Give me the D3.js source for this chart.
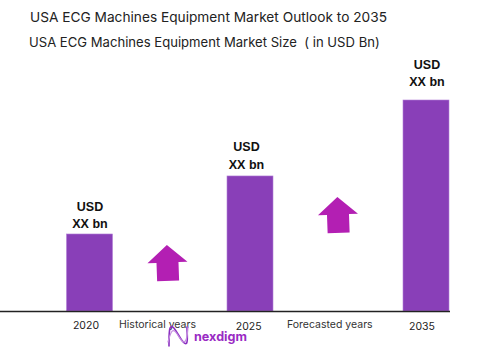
<!DOCTYPE html>
<html><head><meta charset="utf-8">
<script src="https://cdnjs.cloudflare.com/ajax/libs/d3/7.8.5/d3.min.js"></script>
<style>html,body{margin:0;padding:0;background:#fff}svg{display:block}</style>
</head><body><svg id="c" width="484" height="364"></svg>
<script>
const titleText = "USA ECG Machines Equipment Market Outlook to 2035";
const subtitleText = "USA ECG Machines Equipment Market Size  ( in USD Bn)";
const categories = ["2020", "2025", "2035"];
const values = [36.5, 64, 100];
const valueLabelTop = ["USD", "USD", "USD"];
const valueLabelBottom = ["XX bn", "XX bn", "XX bn"];
const periodLabels = ["Historical years", "Forecasted years"];
const brandName = "nexdigm";

const svg = d3.select("#c");
const baseY = 311;
const x = d3.scaleOrdinal(categories, [89.5, 250, 426]);
const y = d3.scaleLinear([0, 100], [baseY, 100]);
const barW = 46;
const sans = "Inter, 'Noto Sans', sans-serif";
const bold = "'Liberation Sans', Arial, sans-serif";

svg.append("text").attr("x", 30).attr("y", 21.5).attr("font-family", sans).attr("font-size", 13.7).attr("fill", "#222").text(titleText);
svg.append("text").attr("x", 29).attr("y", 47).attr("font-family", sans).attr("font-size", 13.1).attr("fill", "#222").attr("xml:space","preserve").text(subtitleText);

svg.selectAll("rect.bar").data(values).join("rect").attr("class", "bar")
  .attr("x", (d, i) => x(categories[i]) - barW / 2).attr("y", d => y(d))
  .attr("width", barW).attr("height", d => baseY - y(d))
  .attr("fill", "#893fb8").attr("stroke", "#b27fd6").attr("stroke-width", 0.6);

svg.append("line").attr("x1", 0).attr("x2", 450).attr("y1", baseY + 0.5).attr("y2", baseY + 0.5).attr("stroke", "#222").attr("stroke-width", 1.4);

const labelX = [90, 246.5, 427];
const topY = [210.5, 151, 69];
const botY = [228, 169, 86];
svg.selectAll("text.top").data(valueLabelTop).join("text").attr("class", "top")
  .attr("x", (d, i) => labelX[i]).attr("y", (d, i) => topY[i])
  .attr("text-anchor", "middle").attr("font-family", bold).attr("font-weight", 700).attr("font-size", 12.5).attr("fill", "#111").text(d => d);
svg.selectAll("text.bot").data(valueLabelBottom).join("text").attr("class", "bot")
  .attr("x", (d, i) => labelX[i]).attr("y", (d, i) => botY[i])
  .attr("text-anchor", "middle").attr("font-family", bold).attr("font-weight", 700).attr("font-size", 12.5).attr("fill", "#111").text(d => d);

const tickY = [329, 330, 330];
const tickX = [86, 248.7, 422];
svg.selectAll("text.tick").data(categories).join("text").attr("class", "tick")
  .attr("x", (d, i) => tickX[i]).attr("y", (d, i) => tickY[i])
  .attr("text-anchor", "middle").attr("font-family", sans).attr("font-size", 10.5).attr("fill", "#222").text(d => d);
const periodX = [119, 287], periodY = [328, 328];
svg.selectAll("text.period").data(periodLabels).join("text").attr("class", "period")
  .attr("x", (d, i) => periodX[i]).attr("y", (d, i) => periodY[i])
  .attr("font-family", sans).attr("font-size", 10.5).attr("fill", "#333").text(d => d);

const arrow = [[0,-18],[20,-0.5],[11,-0.5],[11,18],[-11,18],[-11,-0.5],[-20,-0.5]];
const arrowAt = [[167.5,263],[338,215]];
svg.selectAll("path.arrow").data(arrowAt).join("path").attr("class", "arrow")
  .attr("transform", d => `translate(${d[0]},${d[1]}) rotate(-2)`)
  .attr("d", d3.line()(arrow)).attr("fill", "#b31fb3");

const logo = svg.append("g").attr("fill", "none").attr("stroke-linecap", "round");
const wave = d3.line().curve(d3.curveBasis);
const wave1 = [[169,346],[169,324],[175,328],[182,342],[188,346],[187,330],[187,327]];
const wave2 = [[168,342],[172,328],[177,333],[183,344],[187,340],[188,327]];
logo.append("path").attr("d", wave(wave1)).attr("stroke", "#8a2fc0").attr("stroke-width", 1.6);
logo.append("path").attr("d", wave(wave2)).attr("stroke", "#c58ce0").attr("stroke-width", 1.2);
svg.append("text").attr("x", 194).attr("y", 341).attr("font-family", sans).attr("font-weight", 700).attr("font-size", 12.6).attr("fill", "#9a2bc4").text(brandName);
</script></body></html>
